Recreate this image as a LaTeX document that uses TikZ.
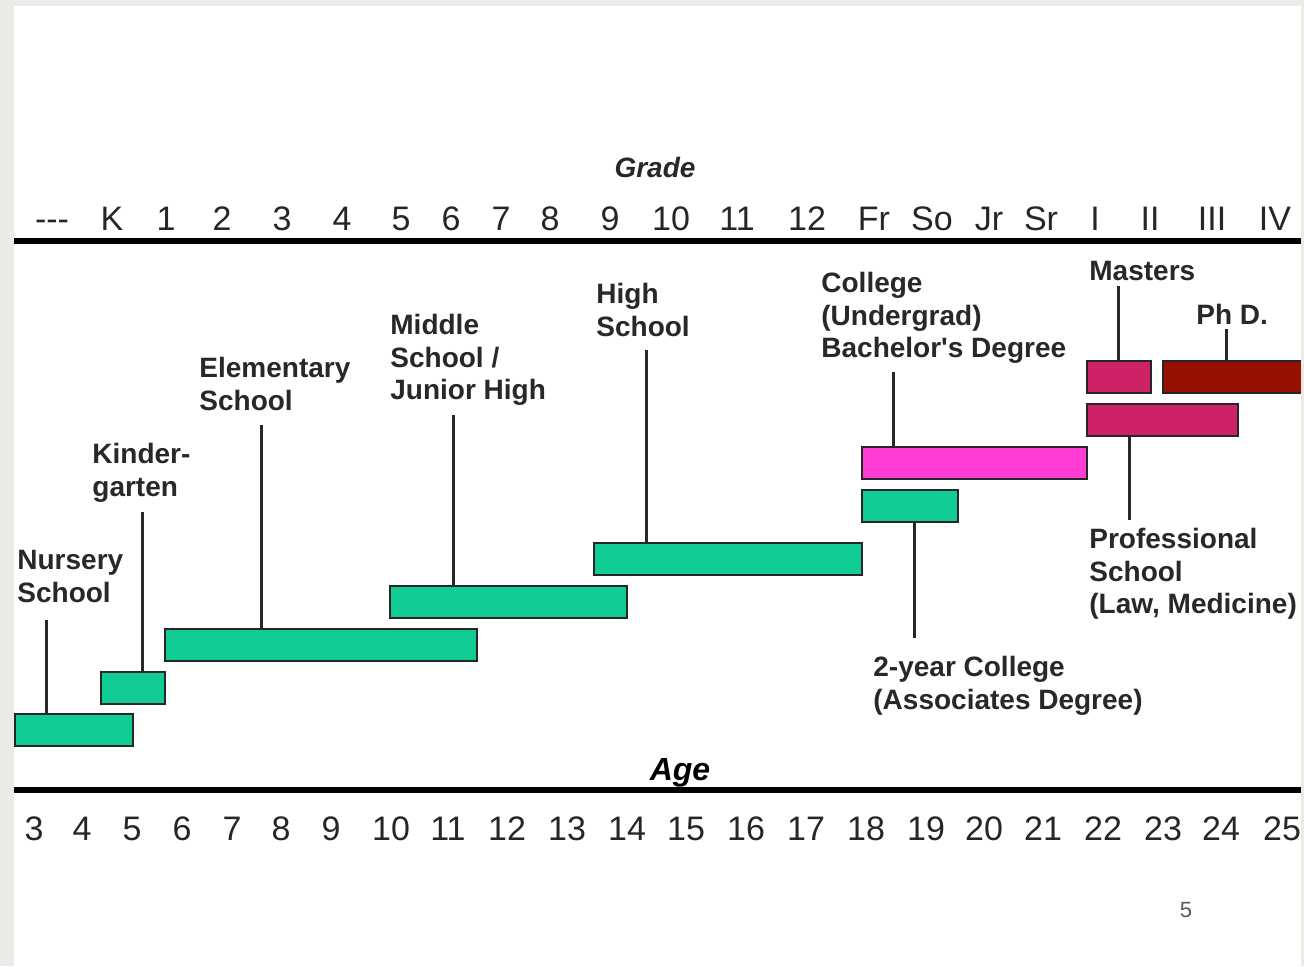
\documentclass[tikz,border=0pt]{standalone}
\usepackage{fontspec}
\setmainfont{Liberation Sans}
\usetikzlibrary{positioning}

\definecolor{barteal}{RGB}{16,204,148}
\definecolor{barpink}{RGB}{255,60,212}
\definecolor{barcrimson}{RGB}{206,34,104}
\definecolor{bardarkred}{RGB}{152,16,0}
\definecolor{framegray}{RGB}{234,234,230}
\definecolor{textgray}{RGB}{40,40,40}

\tikzset{
    bar/.style={draw=black!85, line width=0.9pt, fill=barteal,
        minimum height=16pt, inner sep=0, anchor=north west},
    leader/.style={draw=textgray, line width=1.5pt},
    stage/.style={anchor=north west, align=left, inner sep=0,
        text=textgray, font=\fontsize{14}{16.3}\selectfont\bfseries},
    tick/.style={anchor=base, inner sep=0, text=black!85,
        font=\fontsize{17}{20}\selectfont},
    axis/.style={line width=2.8pt}
}

\begin{document}
\begin{tikzpicture}[x=0.5pt, y=-0.5pt]

\useasboundingbox (0,0) rectangle (1304,966);
\fill[framegray] (0,0) rectangle (1304,966);
\fill[white] (14,6) rectangle (1301,966);

% Axes
\draw[axis] (14,241) -- (1301,241);
\draw[axis] (14,790) -- (1301,790);

\node[anchor=base, inner sep=0, text=textgray,
    font=\fontsize{14}{16}\selectfont\bfseries\itshape] (gradeTitle) at (655,177) {Grade};
\node[anchor=base, inner sep=0,
    font=\fontsize{16}{18}\selectfont\bfseries\itshape] (ageTitle) at (680,780) {Age};

\foreach \x/\t [count=\i] in {52/-{}-{}-, 112/K, 166/1, 222/2, 282/3, 342/4,
    401/5, 451/6, 501/7, 550/8, 610/9, 671/10, 737/11, 807/12, 874/Fr,
    932/So, 989/Jr, 1041/Sr, 1095/I, 1150/II, 1212/III, 1275/IV}
    \node[tick] (grade\i) at (\x,230) {\t};

\foreach \x/\t [count=\i] in {34/3, 82/4, 132/5, 182/6, 232/7, 281/8,
    331/9, 391/10, 448/11, 507/12, 567/13, 627/14, 686/15, 746/16, 806/17,
    866/18, 926/19, 984/20, 1043/21, 1103/22, 1163/23, 1221/24, 1282/25}
    \node[tick] (age\i) at (\x,840) {\t};

% Bars
\node[bar, minimum width=59pt] (nursery) at (14,713) {};
\node[bar, minimum width=32pt] (kinder) at (100,671) {};
\node[bar, minimum width=156pt] (elementary) at (164,628) {};
\node[bar, minimum width=118.5pt] (middle) at (389,585) {};
\node[bar, minimum width=134pt] (high) at (593,542) {};
\node[bar, minimum width=48pt] (twoyear) at (861,489) {};
\node[bar,
    fill=barpink,
    minimum width=112.5pt] (college) at (861,446) {};
\node[bar,
    fill=barcrimson,
    minimum width=75.5pt] (professional) at (1086,403) {};
\node[bar,
    fill=barcrimson,
    minimum width=32pt] (masters) at (1086,360) {};
\node[bar,
    fill=bardarkred,
    minimum width=71pt] (phd) at (1162,360) {};

% Labels
\node[stage] (nurseryText) at (17,550) {Nursery\\School};
\node[stage] (kinderText) at (92,443) {Kinder-\\garten};
\node[stage] (elementaryText) at (199,357) {Elementary\\School};
\node[stage] (middleText) at (390,314) {Middle\\School /\\Junior High};
\node[stage] (highText) at (596,283) {High\\School};
\node[stage] (collegeText) at (821,272) {College\\(Undergrad)\\Bachelor\textquotesingle s Degree};
\node[stage] (mastersText) at (1089,261) {Masters};
\node[stage] (phdText) at (1196,304) {Ph D.};
\node[stage] (professionalText) at (1089,528) {Professional\\School\\(Law, Medicine)};
\node[stage] (twoyearText) at (873,656) {2-year College\\(Associates Degree)};

% Leaders
\coordinate (nurseryEnd) at (46,620);
\coordinate (kinderEnd) at (142,512);
\coordinate (elementaryEnd) at (261,425);
\coordinate (middleEnd) at (453,415);
\coordinate (highEnd) at (646,350);
\coordinate (collegeEnd) at (893,372);
\coordinate (mastersEnd) at (1118,286);
\coordinate (phdEnd) at (1226,329);
\coordinate (twoyearEnd) at (914,638);
\coordinate (professionalEnd) at (1129,520);

\draw[leader] (nurseryEnd) -- (nurseryEnd |- nursery.north);
\draw[leader] (kinderEnd) -- (kinderEnd |- kinder.north);
\draw[leader] (elementaryEnd) -- (elementaryEnd |- elementary.north);
\draw[leader] (middleEnd) -- (middleEnd |- middle.north);
\draw[leader] (highEnd) -- (highEnd |- high.north);
\draw[leader] (collegeEnd) -- (collegeEnd |- college.north);
\draw[leader] (mastersEnd) -- (mastersEnd |- masters.north);
\draw[leader] (phdEnd) -- (phdEnd |- phd.north);
\draw[leader] (twoyearEnd |- twoyear.south) -- (twoyearEnd);
\draw[leader] (professionalEnd |- professional.south) -- (professionalEnd);

% Page number
\node[inner sep=0, text=black!65, font=\fontsize{11}{13}\selectfont]
    (pageNo) at (1186,910) {5};

\fill[framegray] (1301,0) rectangle (1304,966);

\end{tikzpicture}
\end{document}
